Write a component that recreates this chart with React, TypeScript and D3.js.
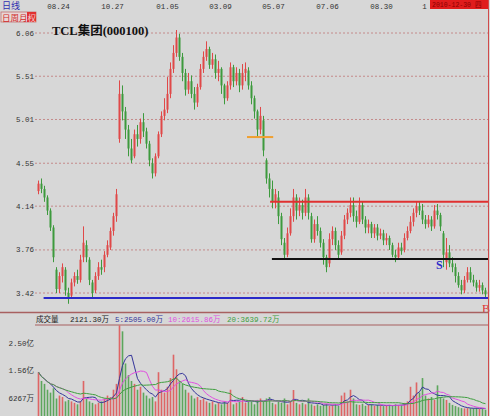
import React from 'react';
import * as d3 from 'd3';

const W = 490;
const H = 416;

const opens = [
  4.28, 4.35, 4.30, 4.22, 4.10, 3.95, 3.60, 3.45, 3.55, 3.60,
  3.42, 3.40, 3.50, 3.55, 3.52, 3.70, 3.80, 3.68, 3.50, 3.44,
  3.55, 3.62, 3.62, 3.72, 3.78, 3.92, 4.05, 4.80, 5.30, 5.10,
  4.90, 4.70, 4.62, 4.85, 4.80, 4.98, 4.88, 4.75, 4.55, 4.45,
  4.62, 4.85, 5.05, 5.12, 5.30, 5.60, 5.80, 6.00, 5.75, 5.55,
  5.35, 5.45, 5.30, 5.20, 5.38, 5.60, 5.75, 5.85, 5.65, 5.72,
  5.55, 5.60, 5.40, 5.25, 5.40, 5.62, 5.45, 5.55, 5.40, 5.55,
  5.58, 5.40, 5.25, 5.10, 4.90, 5.00, 4.58, 4.40, 4.30, 4.18,
  4.22, 4.05, 3.82, 3.72, 3.90, 4.05, 4.22, 4.10, 4.15, 4.08,
  4.22, 4.05, 3.85, 3.98, 3.92, 3.82, 3.70, 3.65, 3.85, 3.92,
  3.80, 3.74, 3.88, 4.02, 4.08, 4.15, 4.05, 4.00, 4.15, 4.02,
  3.95, 3.98, 3.90, 3.95, 3.88, 3.90, 3.84, 3.86, 3.80, 3.72,
  3.70, 3.78, 3.76, 3.86, 3.92, 4.00, 4.08, 4.14, 4.10, 4.02,
  3.98, 4.02, 3.96, 4.10, 4.06, 3.90, 3.66, 3.74, 3.65, 3.62,
  3.55, 3.48, 3.44, 3.52, 3.58, 3.52, 3.50, 3.46, 3.48, 3.44,
];
const closes = [
  4.35, 4.30, 4.22, 4.10, 3.95, 3.70, 3.45, 3.55, 3.62, 3.44,
  3.38, 3.50, 3.55, 3.52, 3.68, 3.82, 3.70, 3.52, 3.42, 3.55,
  3.62, 3.60, 3.72, 3.80, 3.92, 4.05, 4.25, 5.30, 5.10, 4.90,
  4.70, 4.58, 4.85, 4.80, 4.98, 4.88, 4.75, 4.58, 4.45, 4.62,
  4.85, 5.05, 5.12, 5.30, 5.60, 5.80, 6.00, 5.75, 5.55, 5.35,
  5.45, 5.30, 5.20, 5.38, 5.60, 5.75, 5.85, 5.65, 5.72, 5.55,
  5.60, 5.40, 5.25, 5.40, 5.62, 5.45, 5.55, 5.40, 5.55, 5.60,
  5.40, 5.25, 5.10, 4.90, 5.05, 4.68, 4.40, 4.30, 4.18, 4.25,
  4.05, 3.85, 3.72, 3.90, 4.05, 4.22, 4.10, 4.15, 4.08, 4.22,
  4.08, 3.85, 3.98, 3.92, 3.82, 3.70, 3.62, 3.85, 3.92, 3.80,
  3.72, 3.88, 4.02, 4.08, 4.15, 4.05, 4.00, 4.15, 4.02, 3.95,
  3.98, 3.90, 3.95, 3.88, 3.90, 3.84, 3.86, 3.80, 3.72, 3.70,
  3.78, 3.75, 3.86, 3.92, 4.00, 4.08, 4.14, 4.10, 4.02, 3.98,
  4.02, 3.96, 4.10, 4.06, 3.96, 3.72, 3.74, 3.65, 3.62, 3.55,
  3.48, 3.44, 3.52, 3.58, 3.52, 3.50, 3.46, 3.48, 3.44, 3.41,
];
const highs = [
  4.38, 4.40, 4.33, 4.24, 4.12, 3.97, 3.62, 3.58, 3.65, 3.62,
  3.46, 3.53, 3.58, 3.60, 3.72, 3.96, 3.84, 3.70, 3.52, 3.58,
  3.66, 3.68, 3.75, 3.84, 3.95, 4.08, 4.30, 5.46, 5.40, 5.15,
  4.95, 4.80, 4.90, 4.95, 5.02, 5.08, 4.92, 4.78, 4.60, 4.65,
  4.88, 5.10, 5.25, 5.50, 5.68, 5.90, 6.10, 6.05, 5.80, 5.60,
  5.55, 5.52, 5.38, 5.42, 5.66, 5.82, 5.95, 5.88, 5.80, 5.78,
  5.70, 5.62, 5.42, 5.45, 5.68, 5.65, 5.62, 5.60, 5.66, 5.68,
  5.62, 5.45, 5.28, 5.12, 5.15, 5.05, 4.60, 4.45, 4.38, 4.30,
  4.28, 4.08, 3.86, 3.95, 4.12, 4.30, 4.25, 4.22, 4.20, 4.30,
  4.25, 4.08, 4.02, 4.05, 3.95, 3.85, 3.72, 3.90, 3.96, 3.95,
  3.84, 3.92, 4.06, 4.12, 4.22, 4.22, 4.10, 4.22, 4.18, 4.05,
  4.02, 4.00, 3.98, 3.98, 3.94, 3.93, 3.90, 3.88, 3.82, 3.76,
  3.82, 3.82, 3.90, 3.96, 4.05, 4.12, 4.18, 4.18, 4.16, 4.06,
  4.06, 4.05, 4.15, 4.16, 4.08, 3.92, 3.86, 3.80, 3.70, 3.65,
  3.58, 3.52, 3.55, 3.62, 3.62, 3.56, 3.52, 3.52, 3.50, 3.46,
];
const lows = [
  4.25, 4.26, 4.18, 4.06, 3.92, 3.66, 3.42, 3.42, 3.50, 3.40,
  3.34, 3.38, 3.47, 3.49, 3.50, 3.66, 3.66, 3.48, 3.38, 3.42,
  3.52, 3.56, 3.58, 3.70, 3.76, 3.88, 4.00, 4.76, 5.00, 4.80,
  4.62, 4.55, 4.60, 4.72, 4.75, 4.82, 4.70, 4.52, 4.40, 4.42,
  4.60, 4.82, 5.00, 5.08, 5.25, 5.55, 5.75, 5.70, 5.45, 5.28,
  5.30, 5.25, 5.12, 5.15, 5.35, 5.55, 5.70, 5.60, 5.60, 5.48,
  5.45, 5.30, 5.18, 5.22, 5.35, 5.38, 5.40, 5.32, 5.35, 5.45,
  5.35, 5.18, 5.02, 4.82, 4.85, 4.62, 4.35, 4.22, 4.12, 4.12,
  3.98, 3.80, 3.68, 3.70, 3.88, 4.00, 4.02, 4.05, 4.02, 4.05,
  4.02, 3.82, 3.82, 3.88, 3.78, 3.64, 3.58, 3.62, 3.80, 3.76,
  3.68, 3.72, 3.85, 3.98, 4.04, 4.00, 3.95, 3.98, 3.98, 3.90,
  3.90, 3.86, 3.86, 3.84, 3.85, 3.80, 3.80, 3.76, 3.70, 3.66,
  3.68, 3.72, 3.74, 3.84, 3.90, 3.96, 4.04, 4.06, 3.98, 3.94,
  3.95, 3.92, 3.94, 4.02, 3.92, 3.62, 3.60, 3.62, 3.58, 3.50,
  3.46, 3.41, 3.42, 3.50, 3.50, 3.47, 3.43, 3.43, 3.41, 3.38,
];
// volume in 万
const volumes = [
  15000, 12000, 11000, 9000, 8000, 9500, 6000, 7000, 6500, 5000,
  5500, 5000, 4500, 4000, 5000, 12000, 6000, 5000, 4500, 4000,
  4500, 5000, 6000, 7000, 6500, 9000, 11000, 31000, 29000, 18000,
  14000, 12000, 11000, 9000, 10000, 8000, 7000, 6000, 6500, 5000,
  15000, 9000, 8000, 10000, 13000, 21000, 16000, 12000, 11000, 9000,
  8000, 7000, 6000, 6500, 5500, 6000, 5000, 4500, 5000, 4000,
  4500, 4000, 5000, 4500, 9000, 4000, 4500, 5000, 6500, 4500,
  5000, 5000, 4000, 5500, 6000, 5000, 6000, 6500, 4500, 4000,
  5000, 4500, 6000, 4000, 5000, 8900, 4500, 4000, 4500, 4000,
  6000, 4000, 3500, 4000, 3500, 3800, 4200, 3500, 3600, 4000,
  3500, 7000, 8000, 5000, 9000, 6000, 4000, 3800, 4200, 3500,
  3800, 4000, 3500, 3800, 3600, 3400, 3500, 3800, 3400, 4000,
  3600, 3800, 4500, 5000, 10000, 7000, 11500, 8000, 13000, 7000,
  6000, 6500, 5500, 10500, 6500, 6000, 5500, 4500, 3800, 3400,
  3000, 2700, 2600, 2700, 2638, 2600, 2800, 2400, 2600, 2121.3,
];

const priceTicks = [6.06, 5.51, 5.01, 4.55, 4.14, 3.76, 3.42];
// last date label is mostly hidden under the date box; only its first digit shows
const dateLabels = ['08.24', '10.27', '01.05', '03.09', '05.07', '07.06', '08.30', '1'];
const dateIdx = [6.7, 24.7, 43.0, 60.7, 78.3, 96.3, 114.3, 128.7];
const dateBoxText = '2010-12-30 四';
const volTicks = [25000, 15600, 6267];
const volTickLabels = ['2.50亿', '1.56亿', '6267万'];
const volHeader = ['成交量', '2121.30万', '5:2505.00万', '10:2615.86万', '20:3639.72万'];
const maPeriods = [5, 10, 20];

// horizontal reference levels: price, start index, end index
const levelPrices = [3.383, 4.18, 3.686, 4.82];
const levelStart = [2.2, 77.7, 78.3, 70.0];
const levelEnd = [150, 150, 150, 78.4];

const N = closes.length;
const FONT = "'Liberation Mono', 'Noto Sans CJK SC', monospace";
const CJK = "'Noto Sans CJK SC', 'Liberation Sans', sans-serif";

export default function App() {
  const x = d3.scaleLinear().domain([0, N]).range([37, 487]);
  const xc = (i: number) => x(i + 0.5);
  const y = d3.scaleLog().domain([3.42, 6.06]).range([293, 33]);
  const v = d3.scaleLinear().domain([0, 25000]).range([416, 343]);

  const up = '#e04848';
  const down = '#3d9a3d';
  const levelColors = ['#2a2ac8', '#e03030', '#111111', '#f0a030'];
  const maColors = ['#34349a', '#e050e0', '#3f9f3f'];
  const headerColors = ['#222', '#222', '#34349a', '#e050e0', '#3f9f3f'];
  const headerX = [36, 70, 115, 168, 227];

  const mas = maPeriods.map((n) =>
    volumes.map((_, i) => d3.mean(volumes.slice(Math.max(0, i - n + 1), i + 1)) as number)
  );
  const line = d3
    .line<number>()
    .x((_, i) => xc(i))
    .y((d) => v(d));

  return (
    <div style={{ position: 'fixed', left: 0, top: 0, width: W, height: H }}>
      <svg width={W} height={H} style={{ display: 'block', background: '#d7d7d7' }}>
        {/* grid */}
        {priceTicks.map((t) => (
          <g key={t}>
            <line x1={35} x2={488} y1={y(t)} y2={y(t)} stroke="#c48a8a" strokeWidth={1} strokeDasharray="2,2" />
            <text x={34} y={y(t) + 2.5} textAnchor="end" fontFamily={FONT} fontSize={7.5} fill="#333">
              {t.toFixed(2)}
            </text>
          </g>
        ))}

        {/* date labels */}
        {dateLabels.map((d, k) => (
          <text key={d} x={xc(dateIdx[k])} y={9} textAnchor="middle" fontFamily={FONT} fontSize={7.5} fill="#333">
            {d}
          </text>
        ))}
        <rect x={430} y={0} width={58} height={9} fill="#e01c1c" />
        <text x={432} y={7} fontFamily={FONT} fontSize={6.5} fill="#8a0000">{dateBoxText}</text>

        {/* top-left labels */}
        <text x={2} y={9} fontFamily={CJK} fontSize={9} fill="#2f2fb0">日线</text>
        <rect x={1} y={12} width={35} height={10} fill="#e8d6d6" stroke="#c27070" strokeWidth={0.8} />
        <rect x={27} y={12} width={9} height={10} fill="#e03030" />
        <text x={2} y={20.5} fontFamily={CJK} fontSize={8.5} fill="#d02a2a">日周月</text>
        <text x={27.5} y={20.5} fontFamily={CJK} fontSize={8.5} fill="#f4c8c8">权</text>

        {/* title */}
        <text x={52} y={35} fontFamily={"'Liberation Serif', 'Noto Sans CJK SC', serif"} fontSize={12.5} fontWeight={600} fill="#111">
          TCL集团(000100)
        </text>

        {/* candles */}
        {closes.map((c, i) => {
          const o = opens[i];
          const col = c >= o ? up : down;
          const yt = y(Math.max(o, c));
          const yb = y(Math.min(o, c));
          return (
            <g key={i}>
              <line x1={xc(i)} x2={xc(i)} y1={y(highs[i])} y2={y(lows[i])} stroke={col} strokeWidth={1} />
              <rect x={xc(i) - 1} y={yt} width={2} height={Math.max(1, yb - yt)} fill={col} />
            </g>
          );
        })}

        {/* reference levels */}
        {levelPrices.map((p, k) => (
          <line
            key={k}
            x1={x(levelStart[k])}
            x2={x(levelEnd[k]) + 1}
            y1={y(p)}
            y2={y(p)}
            stroke={levelColors[k]}
            strokeWidth={2}
          />
        ))}
        <text x={436} y={269} fontFamily={"'Liberation Serif', serif"} fontSize={12} fontWeight="bold" fill="#2a2ac8">S</text>
        <text x={482} y={313} fontFamily={"'Liberation Serif', serif"} fontSize={12} fill="#e03030">B</text>

        {/* right border */}
        <line x1={488.5} x2={488.5} y1={0} y2={H} stroke="#d04a4a" strokeWidth={1} />

        {/* volume panel frame */}
        <line x1={0} x2={488} y1={312.5} y2={312.5} stroke="#a86060" strokeWidth={1.5} />
        <line x1={35} x2={488} y1={325} y2={325} stroke="#a86060" strokeWidth={1.2} />
        {volHeader.map((t, k) => (
          <text key={t} x={headerX[k]} y={322} fontFamily={FONT} fontSize={7.5} fill={headerColors[k]}>
            {t}
          </text>
        ))}
        {volTicks.map((t, k) => (
          <text key={t} x={34} y={v(t) + 3} textAnchor="end" fontFamily={FONT} fontSize={7.5} fill="#333">
            {volTickLabels[k]}
          </text>
        ))}

        {/* volume bars */}
        {volumes.map((vol, i) => (
          <rect
            key={i}
            x={xc(i) - 0.8}
            y={v(vol)}
            width={1.6}
            height={v(0) - v(vol)}
            fill={closes[i] >= opens[i] ? up : down}
            opacity={0.8}
          />
        ))}
        {mas.map((m, k) => (
          <path key={k} d={line(m) || ''} fill="none" stroke={maColors[k]} strokeWidth={1} />
        ))}
      </svg>
    </div>
  );
}
